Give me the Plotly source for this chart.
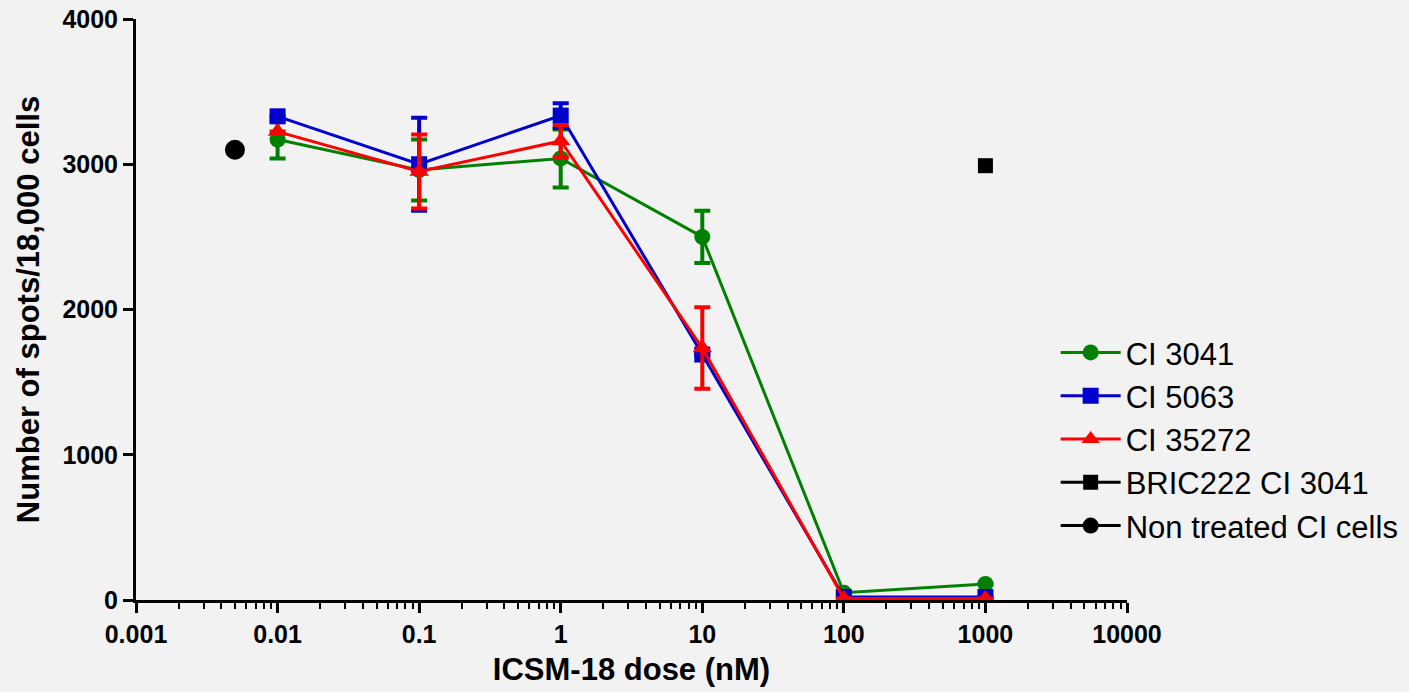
import plotly.graph_objects as go

doses = [0.01, 0.1, 1, 10, 100, 1000]
ci3041 = [3170, 2960, 3040, 2500, 50, 110]
ci3041_err = [130, 210, 200, 180, 0, 0]
ci5063 = [3330, 3000, 3335, 1690, 20, 20]
ci5063_err = [0, 320, 85, 0, 0, 0]
ci35272 = [3225, 2950, 3160, 1735, 10, 10]
ci35272_err = [0, 255, 110, 280, 0, 0]
bric_x = [1000]
bric_y = [2990]
nontreated_x = [0.005]
nontreated_y = [3100]

x_tickvals = [0.001, 0.01, 0.1, 1, 10, 100, 1000, 10000]
x_ticktext = ["0.001", "0.01", "0.1", "1", "10", "100", "1000", "10000"]
y_tickvals = [0, 1000, 2000, 3000, 4000]

minor_vals = [m * 10 ** e for e in range(-3, 4) for m in range(2, 10)]

fig = go.Figure()

def series(name, y, err, color, symbol, size):
    fig.add_trace(go.Scatter(
        x=doses, y=y, name=name, mode="lines+markers",
        line=dict(color=color, width=3),
        marker=dict(color=color, symbol=symbol, size=size),
        error_y=dict(type="data", array=err, visible=True, color=color,
                     thickness=4, width=8),
    ))

series("CI 3041", ci3041, ci3041_err, "#008000", "circle", 16)
series("CI 5063", ci5063, ci5063_err, "#0000CC", "square", 16)
series("CI 35272", ci35272, ci35272_err, "#FF0000", "triangle-up", 17)

fig.add_trace(go.Scatter(
    x=bric_x, y=bric_y, name="BRIC222 CI 3041", mode="lines+markers",
    line=dict(color="black", width=3),
    marker=dict(color="black", symbol="square", size=15),
))
fig.add_trace(go.Scatter(
    x=nontreated_x, y=nontreated_y, name="Non treated CI cells", mode="lines+markers",
    line=dict(color="black", width=3),
    marker=dict(color="black", symbol="circle", size=20),
))

fig.update_layout(
    width=1409, height=692,
    paper_bgcolor="#F2F2F2", plot_bgcolor="#F2F2F2",
    margin=dict(l=136, r=282, t=19, b=92, autoexpand=False),
    font=dict(family="Liberation Sans", color="black"),
    showlegend=True,
    legend=dict(x=0.928, y=0.472, xanchor="left", yanchor="top",
                xref="paper", yref="paper",
                font=dict(family="Liberation Sans", size=31, color="black"),
                bgcolor="rgba(0,0,0,0)", tracegroupgap=0, itemwidth=60),
)

fig.update_xaxes(
    type="log", range=[-3, 4], automargin=False,
    tickvals=x_tickvals, ticktext=x_ticktext,
    tickfont=dict(family="Liberation Sans", size=25, color="black", weight="bold"),
    showgrid=False, zeroline=False,
    showline=True, linecolor="black", linewidth=3,
    ticks="outside", ticklen=10, tickwidth=3, tickcolor="black",
    minor=dict(tickvals=minor_vals, ticks="outside", ticklen=6, tickwidth=2, tickcolor="black"),
    title=dict(text="ICSM-18 dose (nM)", standoff=12,
               font=dict(family="Liberation Sans", size=31, color="black", weight="bold")),
)
fig.update_yaxes(
    range=[0, 4000], automargin=False,
    tickvals=y_tickvals,
    tickfont=dict(family="Liberation Sans", size=25, color="black", weight="bold"),
    showgrid=False, zeroline=False,
    showline=True, linecolor="black", linewidth=3,
    ticks="outside", ticklen=10, tickwidth=3, tickcolor="black",
    title=dict(text="Number of spots/18,000 cells", standoff=14,
               font=dict(family="Liberation Sans", size=31, color="black", weight="bold")),
)

fig.write_html("out.html")
